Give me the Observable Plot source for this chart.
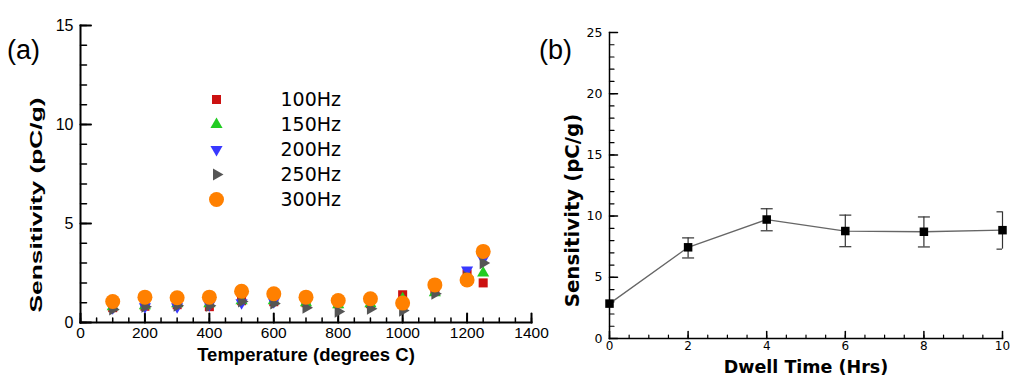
<!DOCTYPE html>
<html>
<head>
<meta charset="utf-8">
<script src="https://cdn.jsdelivr.net/npm/d3@7"></script>
<script src="https://cdn.jsdelivr.net/npm/@observablehq/plot@0.6"></script>
<style>
  html, body { margin: 0; padding: 0; background: #fff; }
  #wrap { position: relative; width: 1024px; height: 384px; overflow: hidden; }
  .abs { position: absolute; }
  .panel { font-family: "Liberation Sans", Arial, sans-serif; font-size: 27px; color: #000; line-height: 1; }
</style>
</head>
<body>
<div id="wrap">
  <div id="plotA" class="abs" style="left:0;top:0"></div>
  <div id="plotB" class="abs" style="left:540px;top:0"></div>
  <div id="legend" class="abs" style="left:190px;top:85px"></div>
  <div class="abs panel" style="left:7px;top:37px">(a)</div>
  <div class="abs panel" style="left:539px;top:37px">(b)</div>
</div>
<script>
// ---------- Data: panel (a) ----------
const temperatures = [100, 200, 300, 400, 500, 600, 700, 800, 900, 1000, 1100, 1200, 1250];
const sens100Hz = [0.75, 0.82, 0.90, 0.80, 1.10, 1.05, 1.00, 0.95, 0.95, 1.40, 1.60, 2.45, 2.00];
const sens150Hz = [0.80, 0.85, 0.95, 0.95, 1.10, 1.10, 1.00, 0.90, 0.95, 1.20, 1.50, 2.40, 2.50];
const sens200Hz = [0.75, 0.80, 0.80, 0.90, 1.00, 1.05, 1.10, 1.00, 1.00, 1.00, 1.70, 2.65, 3.20];
const sens250Hz = [0.66, 0.80, 0.85, 0.85, 1.06, 0.96, 0.75, 0.55, 0.70, 0.60, 1.45, 2.30, 3.00];
const sens300Hz = [1.06, 1.28, 1.25, 1.28, 1.58, 1.45, 1.28, 1.11, 1.20, 0.98, 1.90, 2.15, 3.59];
const seriesNames = ["100Hz", "150Hz", "200Hz", "250Hz", "300Hz"];
const seriesColors = ["#cc1111", "#22cc22", "#3838ff", "#555555", "#ff8000"];
const tempTicks = [0, 200, 400, 600, 800, 1000, 1200, 1400];
const sensTicksA = [0, 5, 10, 15];

// ---------- Data: panel (b) ----------
const dwellHours = [0, 2, 4, 6, 8, 10];
const dwellSens = [2.85, 7.45, 9.72, 8.78, 8.72, 8.85];
const dwellLow = [null, 6.58, 8.80, 7.50, 7.48, 7.30];
const dwellHigh = [null, 8.22, 10.60, 10.08, 9.93, 10.35];
const dwellTicks = [0, 2, 4, 6, 8, 10];
const sensTicksB = [0, 5, 10, 15, 20, 25];

// ---------- symbols ----------
function tri(rot) {
  return {
    draw(ctx, size) {
      const R = Math.sqrt(size / Math.PI);
      const p = [0, 1, 2].map(k => {
        const a = (rot + k * 120 - 90) * Math.PI / 180;
        return [R * Math.cos(a), R * Math.sin(a)];
      });
      ctx.moveTo(p[0][0], p[0][1]);
      ctx.lineTo(p[1][0], p[1][1]);
      ctx.lineTo(p[2][0], p[2][1]);
      ctx.closePath();
    }
  };
}
const hcap = { draw(ctx, size) { const w = Math.sqrt(size / Math.PI); ctx.moveTo(-w, 0); ctx.lineTo(w, 0); } };
const tickShape = { draw(ctx, l) { ctx.moveTo(0, 0); ctx.lineTo(0, -l); } };
const seriesSymbols = ["square", tri(0), tri(180), tri(90), "circle"];
const seriesR = [5.1, 7, 7, 7, 7.5];
const seriesValues = [sens100Hz, sens150Hz, sens200Hz, sens250Hz, sens300Hz];

const seriesData = seriesNames.map((name, i) => ({
  name, color: seriesColors[i], symbol: seriesSymbols[i], r: seriesR[i],
  rows: temperatures.map((t, j) => ({ t, s: seriesValues[i][j] }))
}));

const range = (a, b, step) => d3.range(a, b + step / 2, step);
const plain = d => String(d);

// ---------- Plot (a) ----------
const plotA = Plot.plot({
  width: 560, height: 384,
  marginLeft: 80, marginRight: 29, marginTop: 25, marginBottom: 62,
  style: { fontFamily: "Liberation Sans, Arial, sans-serif", fontSize: "15.5px", color: "#000", background: "transparent" },
  x: { domain: [0, 1400] },
  y: { domain: [0, 15] },
  marks: [
    Plot.vector(range(0, 15, 1), { y: d => d, frameAnchor: "left", rotate: 90, anchor: "start", length: 6, shape: tickShape, stroke: "#000", strokeWidth: 1.5 }),
    Plot.vector(sensTicksA, { y: d => d, frameAnchor: "left", rotate: 90, anchor: "start", length: 10.5, shape: tickShape, stroke: "#000", strokeWidth: 2 }),
    Plot.vector(range(0, 1400, 50), { x: d => d, frameAnchor: "bottom", rotate: 0, anchor: "start", length: 4.5, shape: tickShape, stroke: "#000", strokeWidth: 1.5 }),
    Plot.vector(tempTicks, { x: d => d, frameAnchor: "bottom", rotate: 0, anchor: "start", length: 9, shape: tickShape, stroke: "#000", strokeWidth: 2 }),
    Plot.frame({ anchor: "left", stroke: "#000", strokeWidth: 2 }),
    Plot.frame({ anchor: "bottom", stroke: "#000", strokeWidth: 2 }),
    Plot.axisY({ ticks: sensTicksA, tickSize: 0, tickPadding: 7, label: null, tickFormat: plain, fontSize: 16 }),
    Plot.axisX({ ticks: tempTicks, tickSize: 0, tickPadding: 4, label: null, tickFormat: plain }),
    ...seriesData.map(s => Plot.dot(s.rows, { x: "t", y: "s", symbol: s.symbol, fill: s.color, r: s.r, stroke: "none" })),
    Plot.text(["Temperature (degrees C)"], { frameAnchor: "bottom", dy: 38, lineAnchor: "bottom", textAnchor: "middle", fontWeight: "bold", fontSize: 18.5, text: d => d }),
    Plot.text(["Sensitivity (pC/g)"], { frameAnchor: "left", dx: -44, dy: 31, rotate: -90, textAnchor: "middle", lineAnchor: "middle", fontWeight: "bold", fontSize: 16, text: d => d })
  ]
});
d3.select(plotA).selectAll("text").filter(function () { return this.textContent === "Sensitivity (pC/g)"; })
  .attr("textLength", 215).attr("lengthAdjust", "spacingAndGlyphs");
document.getElementById("plotA").appendChild(plotA);

// ---------- Legend (a) ----------
const legend = Plot.plot({
  width: 180, height: 130, margin: 0,
  style: { fontFamily: "DejaVu Sans, sans-serif", fontSize: "19px", color: "#000", background: "transparent" },
  y: { type: "point", domain: seriesNames, range: [13, 115], padding: 0, axis: null },
  marks: [
    ...seriesData.map(s => Plot.dot([s.name], { y: d => d, frameAnchor: "left", dx: 26, symbol: s.symbol, fill: s.color, r: s.r, stroke: "none" })),
    Plot.text(seriesNames, { y: d => d, frameAnchor: "left", dx: 90, textAnchor: "start", text: d => d, fill: "#000" })
  ]
});
document.getElementById("legend").appendChild(legend);

// ---------- Plot (b) ----------
const dwellRows = dwellHours.map((h, i) => ({ h, s: dwellSens[i], lo: dwellLow[i], hi: dwellHigh[i] }));
const errRows = dwellRows.filter(d => d.lo != null);
const plotB = Plot.plot({
  width: 484, height: 384,
  marginLeft: 69, marginRight: 22, marginTop: 32, marginBottom: 46,
  style: { fontFamily: "DejaVu Sans, sans-serif", fontSize: "12px", color: "#000", background: "transparent" },
  x: { domain: [0, 10] },
  y: { domain: [0, 25] },
  marks: [
    Plot.vector(range(0, 25, 1), { y: d => d, frameAnchor: "left", rotate: 90, anchor: "start", length: 4.5, shape: tickShape, stroke: "#000", strokeWidth: 1.2 }),
    Plot.vector(sensTicksB, { y: d => d, frameAnchor: "left", rotate: 90, anchor: "start", length: 8, shape: tickShape, stroke: "#000", strokeWidth: 1.5 }),
    Plot.vector(range(0, 10, 0.5), { x: d => d, frameAnchor: "bottom", rotate: 0, anchor: "start", length: 3.5, shape: tickShape, stroke: "#000", strokeWidth: 1.2 }),
    Plot.vector(dwellTicks, { x: d => d, frameAnchor: "bottom", rotate: 0, anchor: "start", length: 7, shape: tickShape, stroke: "#000", strokeWidth: 1.5 }),
    Plot.frame({ anchor: "left", stroke: "#000", strokeWidth: 1.5 }),
    Plot.frame({ anchor: "bottom", stroke: "#000", strokeWidth: 1.5 }),
    Plot.axisY({ ticks: sensTicksB, tickSize: 0, tickPadding: 7, label: null, tickFormat: plain, fontSize: 12.5 }),
    Plot.axisX({ ticks: dwellTicks, tickSize: 0, tickPadding: 3, label: null, tickFormat: plain }),
    Plot.ruleX(errRows, { x: "h", y1: "lo", y2: "hi", stroke: "#333", strokeWidth: 1.2 }),
    Plot.dot(errRows, { x: "h", y: "lo", symbol: hcap, r: 6, stroke: "#333", strokeWidth: 1.2, fill: "none", clip: "frame" }),
    Plot.dot(errRows, { x: "h", y: "hi", symbol: hcap, r: 6, stroke: "#333", strokeWidth: 1.2, fill: "none", clip: "frame" }),
    Plot.line(dwellRows, { x: "h", y: "s", stroke: "#666", strokeWidth: 1.3 }),
    Plot.dot(dwellRows, { x: "h", y: "s", symbol: "square", r: 4.8, fill: "#000", stroke: "none" }),
    Plot.text(["Dwell Time (Hrs)"], { frameAnchor: "bottom", dy: 34, lineAnchor: "bottom", textAnchor: "middle", fontWeight: "bold", fontSize: 17.5, text: d => d }),
    Plot.text(["Sensitivity (pC/g)"], { frameAnchor: "left", dx: -37, dy: 25, rotate: -90, textAnchor: "middle", lineAnchor: "middle", fontWeight: "bold", fontSize: 19.8, text: d => d })
  ]
});
document.getElementById("plotB").appendChild(plotB);
</script>
</body>
</html>
